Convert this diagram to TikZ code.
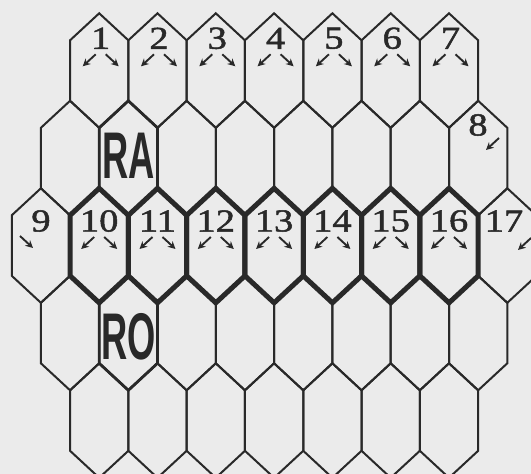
\documentclass[tikz,border=0pt]{standalone}
\usepackage{fontspec}
\newfontfamily\numfont[FakeStretch=1.2,FakeBold=1.6]{Liberation Serif}
\newfontfamily\markfont[FakeStretch=0.55]{Liberation Sans}
\usetikzlibrary{arrows.meta}

\definecolor{ink}{gray}{0.16}
\definecolor{paper}{gray}{0.92}

\tikzset{
  hexcell/.pic={
    \draw[#1] (0,-57.25) -- (29.15,-30.25) -- (29.15,30.25) -- (0,57.25)
      -- (-29.15,30.25) -- (-29.15,-30.25) -- cycle;
  },
  thinwall/.style={ink,line width=2pt,line join=miter},
  markwall/.style={ink,line width=2.8pt,line join=miter},
  routewall/.style={ink,line width=5pt,line join=miter},
  cellnum/.style={font=\numfont\fontsize{32}{32}\selectfont,text=ink,inner sep=0pt},
  cellmark/.style={font=\markfont\bfseries\fontsize{66}{66}\selectfont,text=ink,inner sep=0pt},
  cellarrow/.style={ink,line width=1.9pt,-{Stealth[length=7.5pt,width=7.5pt]}}
}

\begin{document}
\begin{tikzpicture}[x=1pt,y=-1pt]
\useasboundingbox (0,0) rectangle (531,474);
\fill[paper] (0,0) rectangle (531,474);
\clip (0,0) rectangle (531,474);
% grid, five rows
\foreach \i in {0,...,6} \pic at ({99.2+58.3*\i},70.55) {hexcell=thinwall};
\foreach \i in {0,...,7} \pic at ({70.05+58.3*\i},158.05) {hexcell=thinwall};
\foreach \i in {0,...,8} \pic at ({40.9+58.3*\i},245.55) {hexcell=thinwall};
\foreach \i in {0,...,7} \pic at ({70.05+58.3*\i},333.05) {hexcell=thinwall};
\foreach \i in {0,...,6} \pic at ({99.2+58.3*\i},420.55) {hexcell=thinwall};
% RA and RO cells
\pic at (128.35,158.05) {hexcell=markwall};
\pic at (128.35,333.05) {hexcell=markwall};
% route, cells 10-16
\foreach \i in {1,...,7} \pic at ({40.9+58.3*\i},245.55) {hexcell=routewall};
\node[cellmark] (ra) at (128.35,156) {RA};
\node[cellmark] (ro) at (129,337) {RO};
% numbers
\foreach \n [count=\i from 0] in {1,...,7}
  \node[cellnum] (n\n) at ({100.7+58.3*\i},38.3) {\n};
\node[cellnum] (n8) at (478,125) {8};
\node[cellnum] (n9) at (41,221) {9};
\foreach \n [count=\i] in {10,...,16}
  \node[cellnum] (n\n) at ({40.9+58.3*\i},221) {\n};
\node[cellnum] (n17) at (504,221) {17};
% arrows
\foreach \n in {1,2,3,4,5,6,7,10,11,12,13,14,15,16} {
  \draw[cellarrow] (n\n) ++(-5,16) -- ++(-13,12);
  \draw[cellarrow] (n\n) ++(5,16) -- ++(13,12);
}
\draw[cellarrow] (n8) ++(21,13) -- ++(-13,12);
\draw[cellarrow] (n9) ++(-21,15) -- ++(13,12);
\draw[cellarrow] (n17) ++(27,17) -- ++(-13,12);
\end{tikzpicture}
\end{document}
